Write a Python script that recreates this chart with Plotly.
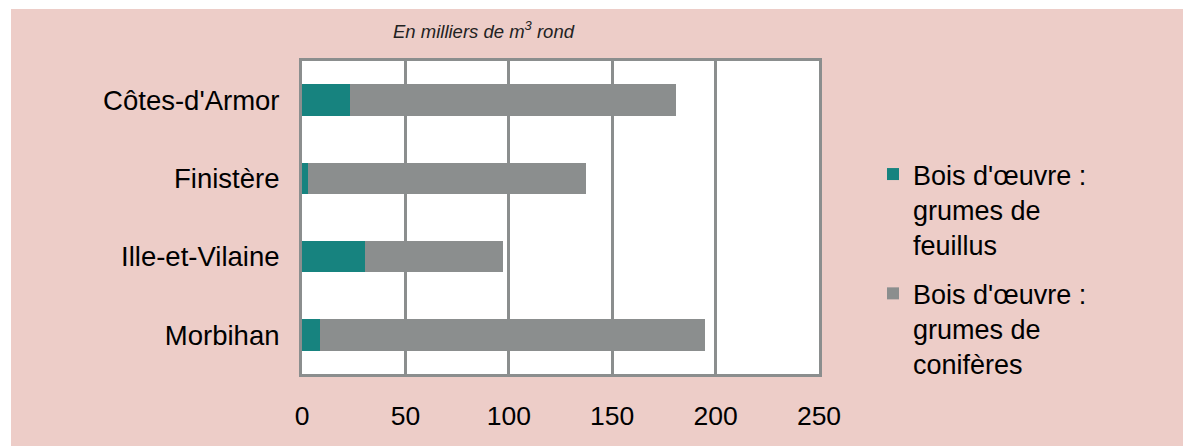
import plotly.graph_objects as go

departements = ["Côtes-d'Armor", "Finistère", "Ille-et-Vilaine", "Morbihan"]
feuillus = [23, 3, 30.5, 8.5]
coniferes = [158, 134.5, 66.5, 186.5]
noms = ["Bois d'œuvre :<br>grumes de<br>feuillus", "Bois d'œuvre :<br>grumes de<br>conifères"]
x_ticks = [0, 50, 100, 150, 200, 250]

W, H = 1183, 446
L, R, T, B = 302, 364, 61, 72
pw, ph = W - L - R, H - T - B

def px(x):
    return (x - L) / pw

def py(y):
    return (H - B - y) / ph

PINK = "#EDCDC8"
TEAL = "#17837F"
GREY = "#8B8E8E"
FONT = "Liberation Sans, Arial, sans-serif"

fig = go.Figure()
fig.add_trace(go.Bar(y=departements, x=feuillus, orientation="h", name=noms[0],
                     legendgroup="g1",
                     marker=dict(color=TEAL, line=dict(width=0))))
fig.add_trace(go.Bar(y=departements, x=coniferes, orientation="h", name=noms[1],
                     legendgroup="g2",
                     marker=dict(color=GREY, line=dict(width=0))))

fig.update_layout(
    width=W, height=H,
    margin=dict(l=L, r=R, t=T, b=B, pad=0),
    barmode="stack", bargap=0.6,
    paper_bgcolor="white", plot_bgcolor="white",
    font=dict(family=FONT, size=26, color="black"),
    showlegend=True,
    legend=dict(x=px(873), xanchor="left", y=py(150), yanchor="top",
                valign="top", traceorder="grouped", font=dict(size=27, color="black"),
                bgcolor="rgba(0,0,0,0)", tracegroupgap=11, itemwidth=30),
    shapes=[
        dict(type="rect", xref="paper", yref="paper", layer="below",
             x0=px(11), x1=px(W + 2), y0=py(H + 2), y1=py(9),
             fillcolor=PINK, line=dict(width=0)),
        dict(type="rect", xref="paper", yref="paper", layer="below",
             x0=0, x1=1, y0=0, y1=1, fillcolor="white", line=dict(width=0)),
    ],
    annotations=[
        dict(text="<i>En milliers de m<sup>3</sup> rond</i>", xref="paper", yref="paper",
             x=px(484), y=py(30), xanchor="center", yanchor="middle", showarrow=False,
             font=dict(size=18.5, color="#222222", family=FONT)),
    ],
)

fig.update_xaxes(range=[0, 250], tickvals=x_ticks, ticktext=[str(v) for v in x_ticks],
                 showgrid=True, gridcolor=GREY, gridwidth=2.5,
                 showline=True, linecolor=GREY, linewidth=3, mirror=True,
                 zeroline=False, ticks="", ticklabelstandoff=16,
                 tickfont=dict(size=26.5, color="black"))
fig.update_yaxes(categoryorder="array", categoryarray=departements, autorange="reversed",
                 showgrid=False, showline=True, linecolor=GREY, linewidth=3, mirror=True,
                 ticks="", ticklabelstandoff=14, tickfont=dict(size=27.5, color="black"))

fig.write_html("out.html", config={"displayModeBar": False},
               post_script="document.body.style.margin='0';document.body.style.padding='0';")
